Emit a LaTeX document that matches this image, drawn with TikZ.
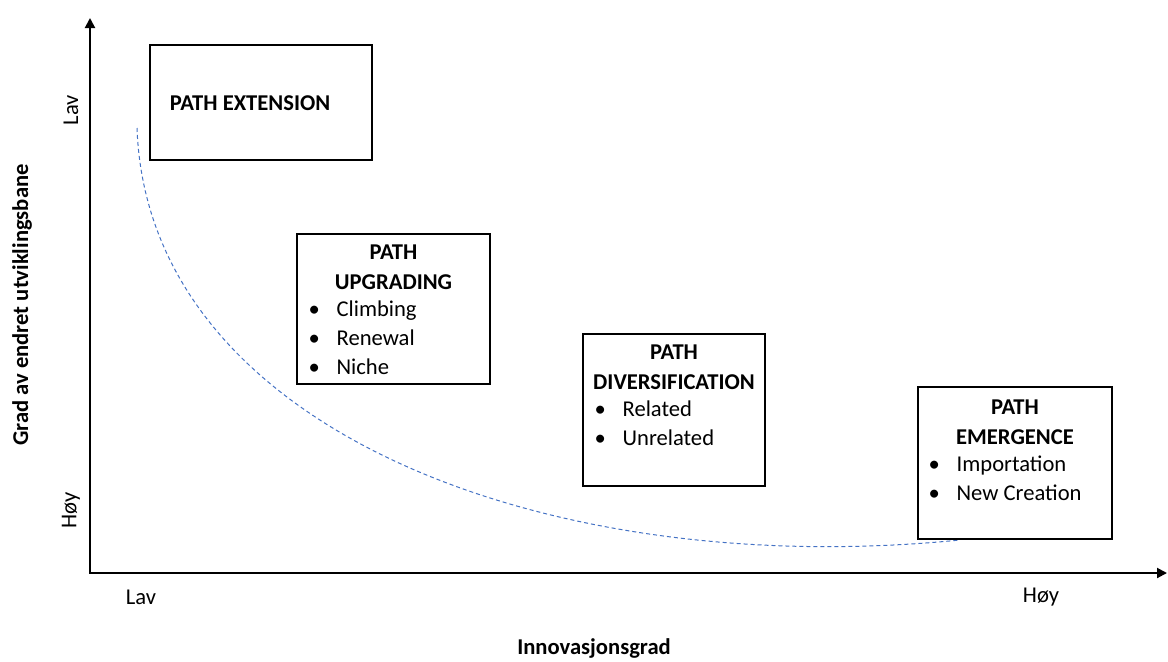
\documentclass[tikz,border=0pt]{standalone}
\usepackage{fontspec}
\setmainfont{Carlito}
\usetikzlibrary{arrows.meta, positioning}
\definecolor{pathblue}{RGB}{68, 114, 196}
\newcommand{\bulletitem}{\makebox[14pt][l]{\textbullet}}
\tikzset{
  pathbox/.style={rectangle, draw=black, line width=0.75pt, inner sep=0pt},
  boxtitle/.style={inner sep=0pt, align=center, font=\fontsize{11.3}{15}\selectfont\bfseries},
  boxitems/.style={inner sep=0pt, align=left, font=\fontsize{11.3}{14.3}\selectfont},
  axislabel/.style={inner sep=0pt, font=\fontsize{11.3}{14}\selectfont},
  axistitle/.style={inner sep=0pt, font=\fontsize{11.3}{14}\selectfont\bfseries},
  axis/.style={line width=1pt, {Triangle[length=5pt, width=5pt]}-{Triangle[length=5pt, width=5pt]}},
  trend/.style={pathblue, line width=0.5pt, dash pattern=on 2pt off 1.5pt},
}
\begin{document}
\begin{tikzpicture}[x=0.5pt, y=0.5pt]
        \useasboundingbox (0,0) rectangle (1168,661);

        % Axes
        \coordinate (origin) at (90,88);
        \coordinate (ytop) at (90,643);
        \coordinate (xend) at (1167,88);
        \draw[axis] (ytop) -- (origin) -- (xend);
        \node[axislabel, rotate=90] (ylow) at (71,551) {Lav};
        \node[axislabel, rotate=90] (yhigh) at (71,151) {Høy};
        \node[axistitle, rotate=90] (ytitle) at (22,356) {Grad av endret utviklingsbane};
        \node[axislabel] (xlow) at (141,64) {Lav};
        \node[axislabel] (xhigh) at (1041,64) {Høy};
        \node[axistitle] (xtitle) at (594,13) {Innovasjonsgrad};

        % Trend curve
        \coordinate (cstart) at (137,533);
        \coordinate (cend) at (960,121);
        \draw[trend] (cstart) .. controls (148,230) and (550,80) .. (cend);

        % Path extension
        \node[pathbox, minimum width=111pt, minimum height=57.5pt] (ext) at (261,558.5) {};
        \node[boxtitle] (extT) at (250,558) {PATH EXTENSION};

        % Path upgrading
        \node[pathbox, minimum width=96.5pt, minimum height=75pt] (upg) at (393.5,352) {};
        \node[boxtitle, below=5.5pt of upg.north] (upgT) {PATH\\UPGRADING};
        \node[boxitems, anchor=north west, xshift=6pt, yshift=-5.5pt] (upgL) at (upgT.south -| upg.west)
          {\bulletitem Climbing\\\bulletitem Renewal\\\bulletitem Niche};

        % Path diversification
        \node[pathbox, minimum width=91pt, minimum height=76pt] (div) at (674,251) {};
        \node[boxtitle, below=5.5pt of div.north] (divT) {PATH\\DIVERSIFICATION};
        \node[boxitems, anchor=north west, xshift=6pt, yshift=-5.5pt] (divL) at (divT.south -| div.west)
          {\bulletitem Related\\\bulletitem Unrelated};

        % Path emergence
        \node[pathbox, minimum width=97pt, minimum height=76pt] (emg) at (1015,198) {};
        \node[boxtitle, below=6.5pt of emg.north] (emgT) {PATH\\EMERGENCE};
        \node[boxitems, anchor=north west, xshift=5.5pt, yshift=-5.5pt] (emgL) at (emgT.south -| emg.west)
          {\bulletitem Importation\\\bulletitem New Creation};
      \end{tikzpicture}
\end{document}
